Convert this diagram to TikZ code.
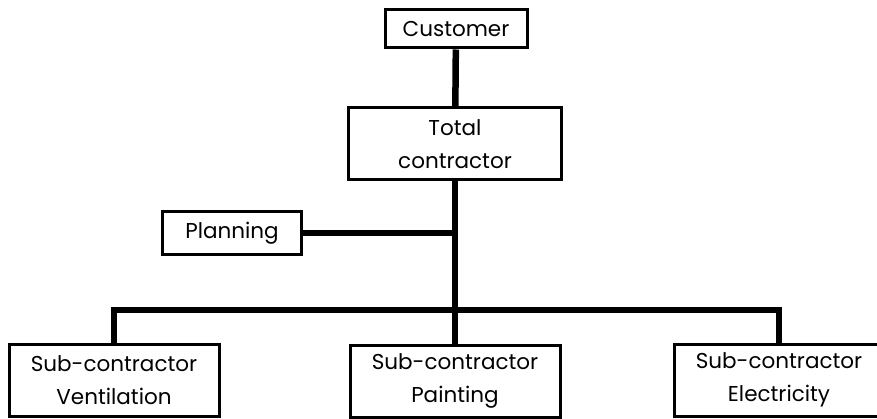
\documentclass[tikz,border=0pt]{standalone}
\usepackage{fontspec}
\setmainfont{Poppins}
\usepackage{tikz}
\usetikzlibrary{positioning}

\begin{document}
\begin{tikzpicture}[
	x=1pt, y=-1pt,
  every node/.style={font=\fontsize{21.5}{33}\selectfont},
  box/.style = {draw, line width=3pt, align=center, inner sep=0pt, minimum width=210pt, minimum height=72pt},
  link/.style = {line width=6.5pt, line join=miter}
  ]
	\useasboundingbox (0,0) rectangle (877,419);

	\node[box, minimum width=142pt, minimum height=38pt] (cust) at (456,29) {Customer};
	\node[box, minimum width=213pt] (total) at (455,144) {Total\\contractor};
	\node[box, minimum width=139pt, minimum height=43pt] (plan) at (232,233) {Planning};

	\node[box] (vent) at (114,380) {Sub-contractor\\Ventilation};
	\node[box] (paint) at (455,381) {Sub-contractor\\Painting};
	\node[box] (elec) at (779,380) {Sub-contractor\\Electricity};

	\coordinate (bus) at (455,310);

	\draw[link] (cust) -- (total);
	\draw[link] (total) -- (paint);
	\draw[link] (plan) -- (plan -| total);
	\draw[link] (vent) |- (bus) -| (elec);

\end{tikzpicture}
\end{document}
